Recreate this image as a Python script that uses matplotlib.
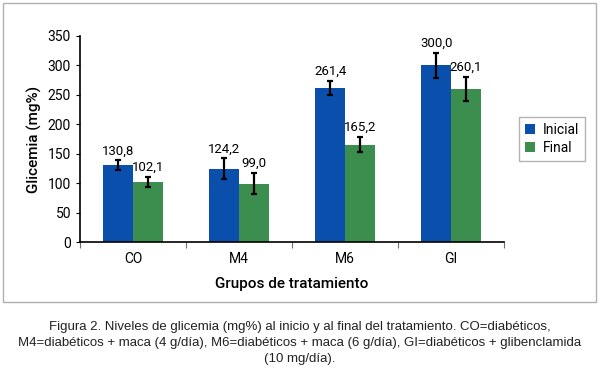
import matplotlib.pyplot as plt
import matplotlib.patches as mpatches
import numpy as np

groups = ['CO', 'M4', 'M6', 'GI']
inicial = [130.8, 124.2, 261.4, 300.0]
final = [102.1, 99.0, 165.2, 260.1]
err_inicial = [8, 18, 12, 21]
err_final = [8, 18, 13, 21]
labels_inicial = ['130,8', '124,2', '261,4', '300,0']
labels_final = ['102,1', '99,0', '165,2', '260,1']

plt.rcParams['font.family'] = ['Roboto', 'DejaVu Sans']

fig = plt.figure(figsize=(6, 3.73), dpi=100)
ax = fig.add_axes([0.1333, 0.3512, 0.7067, 0.5523])

# outer frame around the chart
fig.patches.append(mpatches.Rectangle((3 / 600, 1 - 302 / 373), 593 / 600, 299 / 373,
                                      transform=fig.transFigure, fill=False,
                                      edgecolor='#b0b0b0', linewidth=1))

x = np.arange(len(groups))
w = 0.28
ek = dict(ecolor='black', elinewidth=1.6, capsize=2.5, capthick=1.6)
ax.bar(x - w / 2, inicial, w, yerr=err_inicial, color='#0b4fad', label='Inicial', error_kw=ek)
ax.bar(x + w / 2, final, w, yerr=err_final, color='#3b8e4e', label='Final', error_kw=ek)

for i in range(len(groups)):
    ax.text(x[i] - w / 2, inicial[i] + err_inicial[i] + 5, labels_inicial[i],
            ha='center', va='bottom', fontsize=9.5)
    ax.text(x[i] + w / 2, final[i] + err_final[i] + 5, labels_final[i],
            ha='center', va='bottom', fontsize=9.5)

ax.set_xlim(-0.5, 3.5)
ax.set_ylim(0, 350)
ax.set_yticks(range(0, 351, 50))
ax.set_xticks(x)
ax.set_xticklabels(groups, fontsize=10)
ax.set_xticks(np.arange(-0.5, 3.6, 1), minor=True)
ax.tick_params(axis='x', which='major', length=0, pad=7)
ax.tick_params(axis='x', which='minor', length=4, width=0.8, color='#707070')
ax.tick_params(axis='y', labelsize=10, length=3)
for s in ['top', 'right']:
    ax.spines[s].set_visible(False)
ax.spines['left'].set_linewidth(1.2)
ax.spines['bottom'].set_linewidth(1.2)

ax.set_ylabel('Glicemia (mg%)', fontsize=11, fontweight='medium', labelpad=4)
ax.set_xlabel('Grupos de tratamiento', fontsize=11, fontweight='medium', labelpad=8)

ax.legend(loc='center left', bbox_to_anchor=(1.02, 0.5), fontsize=10,
          frameon=True, fancybox=False, edgecolor='#a0a0a0', handlelength=0.7,
          handleheight=0.7, handletextpad=0.6, borderpad=0.4, labelspacing=0.3)

caption = ('Figura 2. Niveles de glicemia (mg%) al inicio y al final del tratamiento. CO=diabéticos,\n'
           'M4=diabéticos + maca (4 g/día), M6=diabéticos + maca (6 g/día), GI=diabéticos + glibenclamida\n'
           '(10 mg/día).')
fig.text(0.5, 1 - 321 / 373, caption, ha='center', va='top', fontsize=9.5,
         linespacing=1.45, color='#222222', family=['Liberation Sans', 'DejaVu Sans'])

fig.savefig('out.png', dpi=100)
